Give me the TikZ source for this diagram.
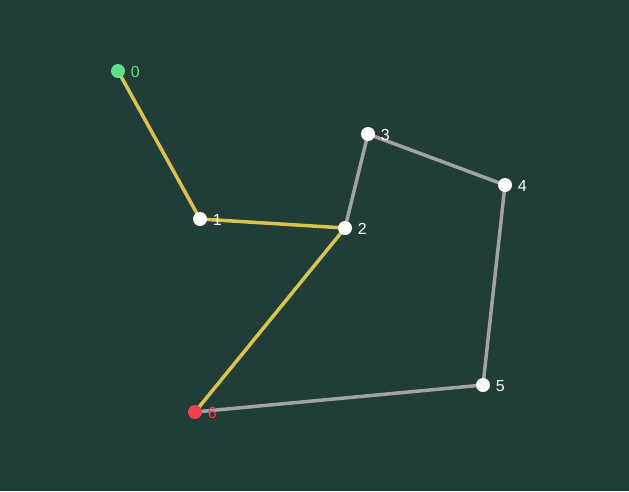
\documentclass[tikz,border=0pt]{standalone}
\usepackage{fontspec}
\setmainfont{Liberation Sans}
\definecolor{bg}{HTML}{213D38}
\definecolor{hl}{HTML}{D8C44C}
\definecolor{ed}{HTML}{A3A3A3}
\definecolor{startc}{HTML}{5EE08A}
\definecolor{endc}{HTML}{F0404F}
\pgfdeclarelayer{edgelayer}
\pgfdeclarelayer{backlayer}
\pgfsetlayers{backlayer,edgelayer,main}
\begin{document}
\begin{tikzpicture}[x=1pt,y=-1pt,
  vert/.style={circle,fill=white,inner sep=0pt,minimum size=14pt},
  lbl/.style={text=white,font=\fontsize{16pt}{16pt}\selectfont,inner sep=0pt,label distance=5.5pt,yshift=-1pt},
  edge/.style={draw=ed,line width=3.5pt},
  pathedge/.style={draw=hl,line width=3.5pt}]
\begin{pgfonlayer}{backlayer}
\fill[bg] (0,0) rectangle (629,491);
\end{pgfonlayer}
\useasboundingbox (0,0) rectangle (629,491);
\node[vert,fill=startc,label={[lbl,text=startc]right:0}] (n0) at (118,71) {};
\node[vert,label={[lbl]right:1}] (n1) at (200,219) {};
\node[vert,label={[lbl]right:2}] (n2) at (345,228) {};
\node[vert,label={[lbl]right:3}] (n3) at (368,134) {};
\node[vert,label={[lbl]right:4}] (n4) at (505,185) {};
\node[vert,label={[lbl]right:5}] (n5) at (483,385) {};
\node[vert,fill=endc,label={[lbl,text=endc]right:6}] (n6) at (195,412) {};
\begin{pgfonlayer}{edgelayer}
\draw[edge] (n2.center) -- (n3.center);
\draw[edge] (n3.center) -- (n4.center);
\draw[edge] (n4.center) -- (n5.center);
\draw[edge] (n5.center) -- (n6.center);
\draw[pathedge] (n0.center) -- (n1.center);
\draw[pathedge] (n1.center) -- (n2.center);
\draw[pathedge] (n2.center) -- (n6.center);
\end{pgfonlayer}
\end{tikzpicture}
\end{document}
